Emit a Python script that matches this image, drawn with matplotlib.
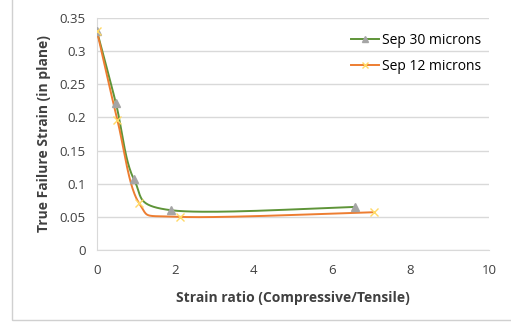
import numpy as np
import matplotlib.pyplot as plt
from matplotlib.patches import Rectangle

# data
x30 = [0.0, 0.48, 0.94, 1.89, 6.58]
y30 = [0.330, 0.222, 0.107, 0.060, 0.065]
x12 = [0.0, 0.52, 1.07, 2.12, 7.07]
y12 = [0.330, 0.196, 0.071, 0.050, 0.057]

xticks = [0, 2, 4, 6, 8, 10]
yticks = [0, 0.05, 0.1, 0.15, 0.2, 0.25, 0.3, 0.35]


def smooth(xs, ys, n=40):
    # Excel-style smoothed line: cubic bezier, control points from neighbours / 6
    p = np.column_stack([xs, ys])
    p = np.vstack([p[0], p, p[-1]])
    out = []
    t = np.linspace(0, 1, n)[:, None]
    for i in range(1, len(p) - 2):
        a, b = p[i], p[i + 1]
        c1 = a + (p[i + 1] - p[i - 1]) / 6
        c2 = b - (p[i + 2] - p[i]) / 6
        seg = (1 - t) ** 3 * a + 3 * (1 - t) ** 2 * t * c1 + 3 * (1 - t) * t ** 2 * c2 + t ** 3 * b
        out.append(seg)
    out = np.vstack(out)
    return out[:, 0], out[:, 1]


plt.rcParams["font.family"] = ["Open Sans", "DejaVu Sans"]
fig = plt.figure(figsize=(5.11, 3.22), dpi=100)
# faint chart border
fig.patches.append(Rectangle((12 / 511, 2 / 322), 1.0, 1.0, transform=fig.transFigure,
                             fill=False, ec="#D0D0D0", lw=1))
ax = fig.add_axes([97 / 511, 1 - 250 / 322, (489 - 97) / 511, (250 - 18) / 322])

green, orange = "#5E9438", "#ED7D31"
sx, sy = smooth(x30, y30)
ax.plot(sx, sy, color=green, lw=1.4, zorder=3)
ax.plot(x30, y30, ls="none", marker="^", ms=6, color="#A5A5A5", zorder=4)
sx, sy = smooth(x12, y12)
ax.plot(sx, sy, color=orange, lw=1.4, zorder=3)
ax.plot(x12, y12, ls="none", marker="x", ms=6, mew=1.0, color="#FFD966", zorder=4)

# legend proxies
ax.plot([], [], color=green, lw=1.4, marker="^", ms=5, mfc="#A5A5A5", mec="#A5A5A5", label="Sep 30 microns")
ax.plot([], [], color=orange, lw=1.4, marker="x", ms=5, mec="#FFD966", label="Sep 12 microns")
ax.legend(loc="upper right", frameon=False, fontsize=10, handlelength=2.0, handletextpad=0.2,
          bbox_to_anchor=(1.0, 0.97), labelspacing=0.75, borderaxespad=0.2)

ax.set_xlim(0, 10)
ax.set_ylim(0, 0.35)
ax.set_xticks(xticks)
ax.set_yticks(yticks)
ax.set_yticklabels(["0", "0.05", "0.1", "0.15", "0.2", "0.25", "0.3", "0.35"])
ax.grid(axis="y", color="#D9D9D9", lw=1)
ax.set_axisbelow(True)
for s in ["top", "right"]:
    ax.spines[s].set_visible(False)
ax.spines["bottom"].set_color("#D9D9D9")
ax.spines["left"].set_color("#D9D9D9")
ax.tick_params(length=0, labelsize=9.5, colors="#404040")
ax.tick_params(axis="x", pad=10)
ax.tick_params(axis="y", pad=8)

ax.set_xlabel("Strain ratio (Compressive/Tensile)", fontsize=10, fontweight="bold", color="#404040", labelpad=10)
ax.set_ylabel("True Failure Strain (in plane)", fontsize=10, fontweight="bold", color="#404040", labelpad=6)

fig.savefig("out.png", dpi=100)
